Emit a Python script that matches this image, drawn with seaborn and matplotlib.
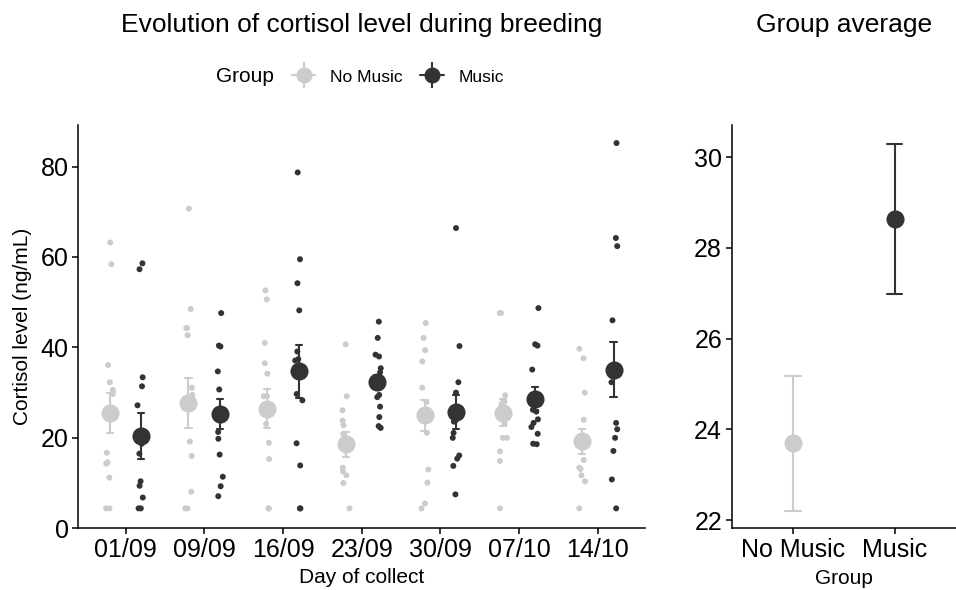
import numpy as np
import pandas as pd
import matplotlib
matplotlib.use('Agg')
import matplotlib.pyplot as plt
import seaborn as sns
from matplotlib.lines import Line2D

# Data
days = ['01/09', '09/09', '16/09', '23/09', '30/09', '07/10', '14/10']
groups = ['No Music', 'Music']
colors = {'No Music': '#cccccc', 'Music': '#333333'}

no_music = [
    [63.2, 58.4, 36.1, 32.3, 30.6, 29.7, 16.7, 14.6, 14.3, 11.2, 4.4, 4.4],
    [70.7, 48.5, 44.3, 44.3, 42.7, 31.1, 29.5, 19.2, 16.0, 8.1, 4.4, 4.4],
    [52.6, 50.6, 41.0, 36.5, 34.2, 29.2, 29.2, 23.1, 18.9, 15.3, 4.4, 4.4],
    [40.7, 29.2, 26.1, 23.8, 22.8, 20.9, 13.4, 12.6, 11.7, 10.0, 4.4],
    [45.4, 42.1, 39.4, 36.9, 31.1, 27.9, 21.1, 13.0, 10.1, 5.5, 4.4],
    [47.6, 47.6, 29.4, 28.0, 28.0, 27.5, 23.1, 20.0, 20.0, 17.0, 14.9, 4.4],
    [39.7, 37.6, 30.0, 24.0, 19.2, 15.1, 13.4, 13.1, 11.7, 10.4, 4.4],
]
music = [
    [58.6, 57.3, 33.4, 31.4, 27.2, 18.7, 16.5, 10.4, 9.4, 6.8, 4.4, 4.4],
    [47.6, 40.2, 40.4, 34.7, 30.7, 25.3, 21.3, 19.8, 16.3, 11.4, 9.3, 7.1],
    [78.7, 59.5, 54.2, 48.2, 39.1, 37.4, 37.1, 29.7, 28.3, 18.8, 13.9, 4.4, 4.4],
    [45.7, 42.1, 38.0, 38.4, 35.4, 34.5, 29.5, 29.0, 26.9, 24.6, 22.6, 22.2],
    [66.4, 40.3, 32.3, 30.0, 23.9, 23.6, 21.1, 20.0, 16.1, 15.4, 13.8, 7.5],
    [48.7, 40.7, 40.4, 35.1, 26.2, 25.8, 24.1, 23.3, 22.4, 20.9, 18.7, 18.6],
    [85.2, 64.2, 62.4, 46.0, 33.8, 32.3, 23.3, 21.9, 20.0, 17.1, 10.8, 4.4],
]

# daily means and standard errors
nm_mean = [25.5, 27.7, 26.4, 18.6, 25.0, 25.6, 19.2]
nm_se = [4.4, 5.5, 4.3, 2.75, 3.45, 3.05, 2.7]
m_mean = [20.4, 25.3, 34.7, 32.4, 25.7, 28.6, 35.1]
m_se = [5.05, 3.3, 5.8, 1.6, 3.8, 2.55, 6.05]

# overall group averages
avg_mean = [23.69, 28.64]
avg_se = [1.48, 1.65]

# raw points in long format
rows = []
for i, d in enumerate(days):
    for v in no_music[i]:
        rows.append((d, 'No Music', v))
    for v in music[i]:
        rows.append((d, 'Music', v))
raw = pd.DataFrame(rows, columns=['Day', 'Group', 'Cortisol'])

# mean +/- se rows: the mean of (lo, hi) is the mean, their range the error bar
summ = []
for i, d in enumerate(days):
    for g, mu, se in [('No Music', nm_mean[i], nm_se[i]), ('Music', m_mean[i], m_se[i])]:
        summ.append((d, g, mu - se))
        summ.append((d, g, mu + se))
summ = pd.DataFrame(summ, columns=['Day', 'Group', 'Cortisol'])

avg = []
for g, mu, se in zip(groups, avg_mean, avg_se):
    avg.append((g, mu - se))
    avg.append((g, mu + se))
avg = pd.DataFrame(avg, columns=['Group', 'Cortisol'])

sns.set_style('ticks')
plt.rcParams['font.family'] = ['Liberation Sans', 'DejaVu Sans']
plt.rcParams['axes.linewidth'] = 1.1
plt.rcParams['text.color'] = 'black'
plt.rcParams['axes.labelcolor'] = 'black'
plt.rcParams['xtick.color'] = 'black'
plt.rcParams['ytick.color'] = 'black'

fig = plt.figure(figsize=(9.56, 5.9), dpi=100)
ax1 = fig.add_axes([0.0819, 0.1046, 0.5928, 0.6836])
ax2 = fig.add_axes([0.7654, 0.1046, 0.2346, 0.6836])

np.random.seed(3)
sns.stripplot(data=raw, x='Day', y='Cortisol', hue='Group', order=days,
              hue_order=groups, palette=colors, dodge=True, jitter=0.1,
              size=4.3, linewidth=0, legend=False, ax=ax1, zorder=1)
sns.pointplot(data=summ, x='Day', y='Cortisol', hue='Group', order=days,
              hue_order=groups, palette=colors, dodge=0.4, estimator='mean',
              errorbar=('pi', 100), linestyle='none', markers='o',
              markersize=11, capsize=0.08, err_kws={'linewidth': 1.5},
              legend=False, ax=ax1)

sns.pointplot(data=avg, x='Group', y='Cortisol', hue='Group', order=groups,
              hue_order=groups, palette=colors, estimator='mean',
              errorbar=('pi', 100), linestyle='none', markers='o',
              markersize=11, capsize=0.15, err_kws={'linewidth': 1.5},
              legend=False, ax=ax2)

ax1.set_xlim(-0.6, 6.6)
ax1.set_ylim(0, 89.2)
ax1.set_yticks([0, 20, 40, 60, 80])
ax1.set_xlabel('Day of collect', fontsize=15, labelpad=4)
ax1.set_ylabel('Cortisol level (ng/mL)', fontsize=15, labelpad=6)

ax2.set_xlim(-0.6, 1.6)
ax2.set_ylim(21.82, 30.71)
ax2.set_yticks([22, 24, 26, 28, 30])
ax2.set_xlabel('Group', fontsize=15, labelpad=5)
ax2.set_ylabel('')

for ax in (ax1, ax2):
    ax.tick_params(labelsize=18, length=4, width=1.1, pad=3)
    for s in ('left', 'bottom'):
        ax.spines[s].set_color('black')
sns.despine(fig=fig)

fig.text(0.3781, 1 - 25 / 590, 'Evolution of cortisol level during breeding',
         ha='center', va='center', fontsize=19)
fig.text(0.8827, 1 - 25 / 590, 'Group average',
         ha='center', va='center', fontsize=19)

# legend with the title on the left, as in ggplot
fig.text(216 / 956, 1 - 77 / 590, 'Group', ha='left', va='center', fontsize=15)
handles = []
for g in groups:
    c = colors[g]
    handles.append((Line2D([], [], color=c, marker='o', markersize=10.5, lw=1.5),
                    Line2D([], [], color=c, marker='|', markersize=19,
                           markeredgewidth=1.5, linestyle='none')))
fig.legend(handles, groups, loc='center left', ncol=2, frameon=False,
           bbox_to_anchor=(276 / 956, 1 - 77 / 590), fontsize=12.5,
           handlelength=1.37, handletextpad=0.86, columnspacing=1.0)

fig.savefig('out.png', dpi=100)
